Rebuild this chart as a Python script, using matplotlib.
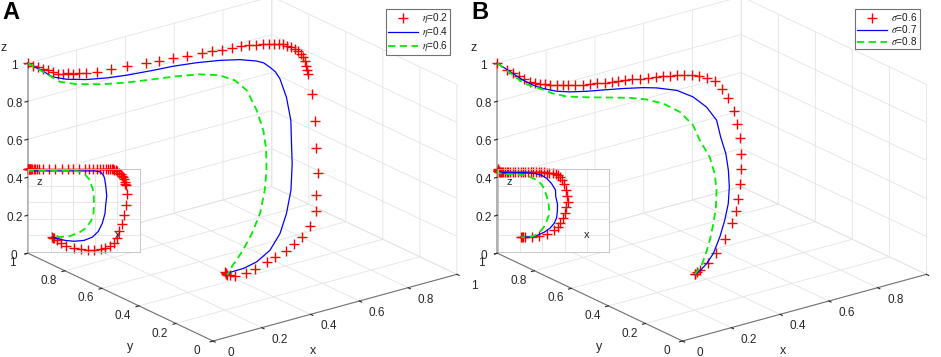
import numpy as np
import matplotlib
matplotlib.use("Agg")
import matplotlib.pyplot as plt
from matplotlib.transforms import ScaledTranslation
from mpl_toolkits.mplot3d import proj3d

plt.rcParams['font.family'] = ['Liberation Sans', 'DejaVu Sans']
plt.rcParams['mathtext.fontset'] = 'stix'
plt.rcParams['grid.color'] = '#e3e3e3'
plt.rcParams['grid.linewidth'] = 0.6

# ---- panel A : eta ----
a_red_x = [0.0, 0.0, 0.004, 0.009, 0.014, 0.016, 0.022, 0.035, 0.049, 0.062, 0.080, 0.100,
           0.135, 0.182, 0.242, 0.307, 0.354, 0.405, 0.457, 0.508, 0.544, 0.580, 0.614,
           0.648, 0.673, 0.696, 0.717, 0.735, 0.748, 0.759, 0.770, 0.785, 0.800, 0.815,
           0.828, 0.840, 0.850, 0.858, 0.865, 0.870, 0.875, 0.885, 0.88, 0.86, 0.84, 0.81,
           0.80, 0.77, 0.73, 0.69, 0.65, 0.59, 0.54, 0.47, 0.41, 0.34, 0.29, 0.26, 0.23,
           0.22, 0.21]
a_red_y = [1.0, 0.97, 0.951, 0.93, 0.91, 0.885, 0.866, 0.856, 0.846, 0.836, 0.829, 0.818,
           0.803, 0.793, 0.782, 0.767, 0.757, 0.749, 0.740, 0.731, 0.722, 0.714, 0.706,
           0.700, 0.692, 0.682, 0.674, 0.665, 0.657, 0.646, 0.636, 0.634, 0.630, 0.630,
           0.629, 0.632, 0.633, 0.636, 0.638, 0.638, 0.637, 0.632, 0.61, 0.575, 0.54, 0.51,
           0.50, 0.49, 0.48, 0.47, 0.46, 0.44, 0.42, 0.39, 0.36, 0.33, 0.29, 0.27, 0.24,
           0.22, 0.20]
a_red_z = [1.0, 1.0, 1.0, 1.0, 1.0, 1.0, 1.0, 1.0, 1.0, 1.0, 1.0, 1.0,
           1.0, 1.0, 1.0, 1.0, 1.0, 1.0, 1.0, 1.0, 1.0, 1.0, 1.0,
           1.0, 1.0, 1.0, 1.0, 1.0, 1.0, 1.0, 0.997, 0.987, 0.975, 0.959,
           0.943, 0.922, 0.903, 0.878, 0.851, 0.828, 0.806, 0.70, 0.57, 0.45, 0.34, 0.25,
           0.17, 0.11, 0.07, 0.05, 0.035, 0.03, 0.03, 0.035, 0.05, 0.07, 0.11, 0.14, 0.17,
           0.175, 0.18]

a_blue_x = [0.0, 0.0, 0.01, 0.034, 0.084, 0.145, 0.212, 0.308, 0.382, 0.463, 0.536, 0.592,
            0.638, 0.652, 0.660, 0.675, 0.685, 0.695, 0.704, 0.694, 0.689, 0.665, 0.629,
            0.576, 0.500, 0.412, 0.331, 0.237, 0.21]
a_blue_y = [1.0, 0.91, 0.88, 0.835, 0.794, 0.766, 0.746, 0.729, 0.719, 0.698, 0.669, 0.635,
            0.606, 0.585, 0.563, 0.552, 0.541, 0.519, 0.507, 0.490, 0.480, 0.455, 0.432,
            0.397, 0.351, 0.307, 0.272, 0.229, 0.20]
a_blue_z = [1.0, 0.995, 0.98, 0.98, 0.98, 0.98, 0.98, 0.98, 0.98, 0.98, 0.98, 0.98,
            0.97, 0.965, 0.95, 0.925, 0.89, 0.80, 0.68, 0.56, 0.47, 0.35, 0.25,
            0.18, 0.14, 0.13, 0.14, 0.17, 0.18]

a_green_x = [0.0, 0.0, 0.002, 0.033, 0.102, 0.172, 0.259, 0.336, 0.407, 0.464, 0.507, 0.546,
             0.577, 0.588, 0.589, 0.586, 0.565, 0.519, 0.451, 0.366, 0.268, 0.21]
a_green_y = [1.0, 0.89, 0.83, 0.78, 0.727, 0.693, 0.664, 0.640, 0.608, 0.575, 0.550, 0.537,
             0.524, 0.503, 0.489, 0.483, 0.465, 0.430, 0.384, 0.326, 0.252, 0.20]
a_green_z = [1.0, 0.99, 0.98, 0.98, 0.98, 0.98, 0.98, 0.98, 0.98, 0.97, 0.94, 0.88,
             0.77, 0.67, 0.58, 0.47, 0.38, 0.29, 0.23, 0.19, 0.18, 0.18]

a_labels = [r'$\eta$=0.2', r'$\eta$=0.4', r'$\eta$=0.6']

# ---- panel B : sigma ----
b_red_x = [0.0, 0.0, 0.003, 0.006, 0.008, 0.010, 0.018, 0.027, 0.039, 0.049, 0.065, 0.081,
           0.095, 0.113, 0.138, 0.157, 0.180, 0.205, 0.226, 0.248, 0.272, 0.295, 0.318,
           0.345, 0.367, 0.392, 0.413, 0.442, 0.462, 0.493, 0.518, 0.537, 0.560, 0.580,
           0.596, 0.612, 0.622, 0.626, 0.616, 0.604, 0.581, 0.562, 0.539, 0.508, 0.439,
           0.372, 0.305, 0.246, 0.228, 0.214, 0.21]
b_red_y = [1.0, 0.95, 0.92, 0.89, 0.865, 0.838, 0.821, 0.806, 0.794, 0.781, 0.766, 0.754,
           0.743, 0.730, 0.718, 0.707, 0.698, 0.689, 0.680, 0.675, 0.669, 0.659, 0.649,
           0.640, 0.629, 0.623, 0.611, 0.613, 0.601, 0.600, 0.592, 0.575, 0.564, 0.551,
           0.540, 0.528, 0.525, 0.516, 0.498, 0.480, 0.456, 0.438, 0.422, 0.400, 0.350,
           0.310, 0.262, 0.230, 0.222, 0.215, 0.21]
b_red_z = [1.0, 0.99, 0.985, 0.98, 0.975, 0.97, 0.97, 0.97, 0.97, 0.97, 0.97, 0.97,
           0.97, 0.97, 0.97, 0.97, 0.97, 0.97, 0.97, 0.97, 0.97, 0.97, 0.97,
           0.97, 0.97, 0.97, 0.97, 0.96, 0.96, 0.95, 0.94, 0.93, 0.91, 0.87,
           0.82, 0.75, 0.68, 0.61, 0.54, 0.47, 0.41, 0.35, 0.30, 0.26, 0.22,
           0.19, 0.18, 0.18, 0.18, 0.18, 0.18]

b_blue_x = [0.0, 0.0, 0.004, 0.022, 0.042, 0.073, 0.120, 0.170, 0.230, 0.292, 0.331, 0.391,
            0.439, 0.481, 0.518, 0.520, 0.536, 0.535, 0.529, 0.508, 0.470, 0.418, 0.352,
            0.295, 0.248, 0.21]
b_blue_y = [1.0, 0.86, 0.812, 0.782, 0.736, 0.705, 0.676, 0.653, 0.624, 0.598, 0.576, 0.546,
            0.521, 0.504, 0.498, 0.479, 0.472, 0.457, 0.444, 0.422, 0.391, 0.349, 0.297,
            0.258, 0.229, 0.21]
b_blue_z = [1.0, 0.975, 0.97, 0.96, 0.96, 0.96, 0.96, 0.96, 0.96, 0.955, 0.95, 0.93,
            0.89, 0.83, 0.75, 0.67, 0.58, 0.50, 0.42, 0.35, 0.29, 0.24, 0.20,
            0.185, 0.18, 0.18]

b_green_x = [0.0, 0.0, 0.024, 0.041, 0.060, 0.108, 0.173, 0.228, 0.283, 0.335, 0.385, 0.419,
             0.437, 0.455, 0.460, 0.457, 0.437, 0.412, 0.374, 0.333, 0.278, 0.21]
b_green_y = [1.0, 0.855, 0.802, 0.754, 0.705, 0.660, 0.619, 0.584, 0.567, 0.546, 0.521, 0.495,
             0.482, 0.453, 0.432, 0.418, 0.395, 0.376, 0.345, 0.312, 0.263, 0.21]
b_green_z = [1.0, 0.96, 0.95, 0.94, 0.94, 0.94, 0.935, 0.93, 0.91, 0.88, 0.83, 0.76,
             0.68, 0.60, 0.52, 0.44, 0.37, 0.30, 0.24, 0.20, 0.18, 0.18]

b_labels = [r'$\sigma$=0.6', r'$\sigma$=0.7', r'$\sigma$=0.8']

ticks = [0, 0.2, 0.4, 0.6, 0.8, 1]
tick_labels = ['0', '0.2', '0.4', '0.6', '0.8', '1']

W, H = 941, 357
fig = plt.figure(figsize=(W / 100, H / 100), dpi=100)

styles = [dict(color='red', linestyle='none', marker='+', markersize=6.5, markeredgewidth=1.0),
          dict(color='blue', linestyle='-', linewidth=0.9),
          dict(color='#00ee00', linestyle=(0, (4, 2.5)), linewidth=1.3)]


def project(ax, x, y, z):
    xs, ys, _ = proj3d.proj_transform(np.atleast_1d(x), np.atleast_1d(y),
                                      np.atleast_1d(z), ax.get_proj())
    return ax.transData.transform(np.column_stack([xs, ys]))


def offset_ticklabels(axis, dx, dy):
    # Axis3D resets label transforms on every draw, so hook the offset in there
    orig = axis.get_major_ticks

    def patched(numticks=None):
        tks = orig(numticks)
        shift = ScaledTranslation(dx / 72, dy / 72, fig.dpi_scale_trans)
        for t in tks:
            t.label1.set_transform(axis.axes.transData + shift)
        return tks
    axis.get_major_ticks = patched


def make_panel(off, data, labels, letter):
    size = 470
    ax = fig.add_axes([(off + 235 - size / 2) / W, (H / 2 - size / 2) / H,
                       size / W, size / H], projection='3d')
    ax.set_proj_type('ortho')
    ax.view_init(elev=21.1, azim=-127.2)
    aspect = (1, 1, 0.665)
    ax.set_box_aspect(aspect)
    ax.patch.set_alpha(0)
    ax.computed_zorder = False

    for (xs, ys, zs), st, lab in zip(data, styles, labels):
        ax.plot(xs, ys, zs, label=lab, clip_on=False, **st)

    ax.set_xlim(0, 1)
    ax.set_ylim(0, 1)
    ax.set_zlim(0, 1)
    for axis in (ax.xaxis, ax.yaxis, ax.zaxis):
        axis.set_ticks(ticks)
        axis.set_ticklabels(tick_labels)
        axis.set_pane_color((1, 1, 1, 0))
        axis.pane.set_edgecolor('#e3e3e3')
        axis.line.set_color('0.45')
        axis.line.set_linewidth(0.8)
        axis._axinfo['tick']['color'] = '0.45'
        axis._axinfo['tick']['inward_factor'] = 0.15
        axis._axinfo['tick']['outward_factor'] = 0.0
    ax.zaxis.line.set_color('0.65')
    ax.zaxis.line.set_linewidth(1.2)
    ax.tick_params(labelsize=8.5, colors='0.15', pad=1)
    ax.grid(True)
    offset_ticklabels(ax.xaxis, 6, 6)
    offset_ticklabels(ax.yaxis, -2.5, 6.5)
    offset_ticklabels(ax.zaxis, 6, 1.5)

    leg = ax.legend(loc='upper right', bbox_to_anchor=((off + 450) / W, 1 - 9 / H),
                    bbox_transform=fig.transFigure, fontsize=7.2, frameon=True,
                    fancybox=False, edgecolor='0.3', handlelength=3.0,
                    handletextpad=0.4, borderpad=0.2, labelspacing=0.0,
                    borderaxespad=0)
    leg.get_frame().set_linewidth(0.8)
    for t in leg.get_texts():
        t.set_color('0.1')

    # fit the cube onto the reference layout
    fig.canvas.draw()
    p = project(ax, [0, 1], [1, 0], [0, 0])
    zoom = 429.0 / (p[1, 0] - p[0, 0])
    ax.set_box_aspect(aspect, zoom=zoom)
    fig.canvas.draw()
    o = project(ax, 0, 0, 0)[0]
    pos = ax.get_position(original=True)
    ax.set_position([pos.x0 + (off + 213 - o[0]) / W, pos.y0 + (H - 341 - o[1]) / H,
                     pos.width, pos.height])

    fig.text((off + 4) / W, 1 - 48 / H, 'z', fontsize=9, ha='center', va='center', color='0.15')
    fig.text((off + 130) / W, 1 - 347 / H, 'y', fontsize=9, ha='center', va='center', color='0.15')
    fig.text((off + 313) / W, 1 - 351 / H, 'x', fontsize=9, ha='center', va='center', color='0.15')
    fig.text((off + 2) / W, 1 - 1 / H, letter, fontsize=17, fontweight='bold', ha='left', va='top')

    # inset: x-z view of the same trajectories
    ins = fig.add_axes([(off + 28.3) / W, (H - 252) / H, 111.4 / W, 82.7 / H])
    ins.set_facecolor('white')
    for (xs, ys, zs), st in zip(data, styles):
        ins.plot(xs, zs, clip_on=False, **st)
    ins.set_xlim(0, 1)
    ins.set_ylim(0, 1)
    ins.set_xticks(ticks)
    ins.set_yticks(ticks)
    ins.set_xticklabels([])
    ins.set_yticklabels([])
    ins.tick_params(length=0)
    ins.grid(True, color='#e3e3e3', linewidth=0.6)
    for sp in ins.spines.values():
        sp.set_color('0.75')
        sp.set_linewidth(0.6)
    ins.text(0.1, 0.85, 'z', transform=ins.transAxes, fontsize=8, ha='center', va='center', color='0.15')
    ins.text(0.8, 0.2, 'x', transform=ins.transAxes, fontsize=8, ha='center', va='center', color='0.15')
    return ax


make_panel(0, [(a_red_x, a_red_y, a_red_z), (a_blue_x, a_blue_y, a_blue_z),
               (a_green_x, a_green_y, a_green_z)], a_labels, 'A')
make_panel(469.5, [(b_red_x, b_red_y, b_red_z), (b_blue_x, b_blue_y, b_blue_z),
                   (b_green_x, b_green_y, b_green_z)], b_labels, 'B')

fig.savefig('out.png', dpi=100, facecolor='white')
